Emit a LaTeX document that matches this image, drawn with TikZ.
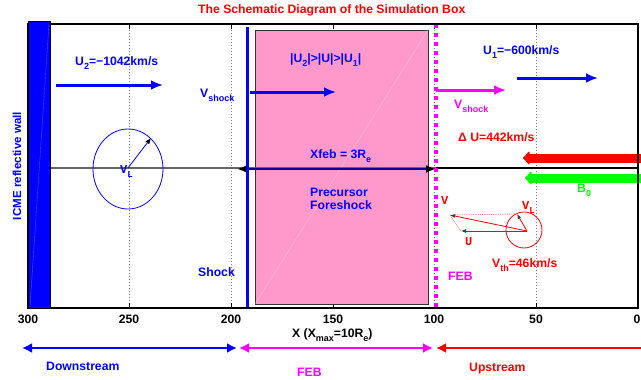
\documentclass[tikz,border=0pt]{standalone}
\usepackage{fontspec}
\setmainfont{Liberation Sans}
\setmonofont{Liberation Mono}
\usetikzlibrary{arrows.meta,positioning}
\definecolor{febpink}{HTML}{FF99CC}
\definecolor{febmagenta}{HTML}{FF00FF}
\definecolor{bgreen}{HTML}{00FF00}
\definecolor{xfebnavy}{HTML}{000099}
\definecolor{gridgray}{HTML}{808080}
\newcommand{\lowsub}[1]{\raisebox{-4pt}{\fontsize{9}{9}\selectfont #1}}

\begin{document}
\begin{tikzpicture}[x=1pt,y=-1pt,
  lbl/.style={inner sep=0pt, anchor=base west, font=\fontsize{12.2}{13}\selectfont\bfseries},
  vlbl/.style={inner sep=0pt, anchor=base west, font=\fontsize{12}{13}\selectfont\ttfamily\bfseries},
  uflow/.style={line width=3pt, -{Latex[length=12pt,width=10pt]}},
  bigflow/.style={line width=9pt, -{Latex[round,length=7pt,width=17pt]}},
  span/.style={line width=2pt, {Latex[length=10pt,width=10pt]}-{Latex[length=10pt,width=10pt]}},
  vecarr/.style={red, line width=0.8pt, -{Latex[length=5pt,width=4pt,color=darkgray]}},
  gridline/.style={gridgray, line width=0.5pt, dash pattern=on 0.8pt off 2.2pt}]
\useasboundingbox (0,0) rectangle (641,380);
\clip (0,0) rectangle (641,380);

% grid and ticks
\foreach \px in {129,231,333,434,536} {
  \draw[gridline] (\px,24) -- (\px,308);
  \draw[line width=0.8pt] (\px,24) -- (\px,29) (\px,308) -- (\px,303);
}
\foreach \v/\px in {300/28,250/129,200/231,150/333,100/434,50/536,0/637}
  \node[lbl, anchor=base] (t\v) at (\px,323) {\v};

% precursor foreshock region
\draw[fill=febpink, draw=black!80, line width=0.8pt] (255,30) rectangle (428,304);
\draw[white, opacity=0.35, line width=0.4pt] (255,304) -- (428,30);

% x axis of the box
\coordinate (wallx) at (50,168);
\coordinate (febx) at (436,168);
\coordinate (rightx) at (638,168);
\draw[black!60, line width=1.2pt] (wallx) -- (febx);
\draw[line width=1.2pt] (febx) -- (rightx);

% gyration circles
\draw[blue, line width=0.8pt] (128,169) ellipse[x radius=35, y radius=40];
\coordinate (gc) at (128,168);
\coordinate (gt) at (151,138);
\draw[blue, line width=0.8pt, -{Latex[length=6pt,width=5pt,color=black]}] (gc) -- (gt);
\node[vlbl, text=blue] (vlb) at (120,173) {V\lowsub{L}};

\draw[red, line width=0.8pt] (524,230) circle[radius=18];
\coordinate (o) at (527,231);
\coordinate (ut) at (461,231);
\coordinate (vlt) at (517,214);
\coordinate (vt) at (450,215);
\draw[red!50, densely dotted, line width=0.8pt] (vlt) -- (vt) (ut) -- (vt);
\draw[vecarr] (o) -- (ut);
\draw[vecarr] (o) -- (vt);
\draw[vecarr] (o) -- (vlt);
\node[vlbl, text=red] (vr) at (441,204) {V};
\node[vlbl, text=red] (ur) at (465,245) {U};
\node[vlbl, text=red] (vlr) at (522,209) {V\lowsub{L}};

% flows
\coordinate (u2a) at (56,85);  \coordinate (u2b) at (163,85);
\coordinate (vsa) at (250,92); \coordinate (vsb) at (336,92);
\coordinate (u1a) at (517,78); \coordinate (u1b) at (598,78);
\coordinate (vfa) at (436,90); \coordinate (vfb) at (506,90);
\draw[uflow, blue] (u2a) -- (u2b);
\draw[uflow, blue] (vsa) -- (vsb);
\draw[uflow, blue] (u1a) -- (u1b);
\draw[uflow, febmagenta] (vfa) -- (vfb);
\coordinate (dua) at (650,158); \coordinate (dub) at (523,158);
\coordinate (b0a) at (650,178); \coordinate (b0b) at (525,178);
\draw[bigflow, red] (dua) -- (dub);
\draw[bigflow, bgreen] (b0a) -- (b0b);

% Xfeb extent
\coordinate (xa) at (237,169);
\coordinate (xb) at (436,169);
\draw[xfebnavy, line width=2pt, {Latex[length=10pt,width=8pt,color=black]}-{Latex[length=10pt,width=8pt,color=black]}] (xa) -- (xb);

% shock and FEB
\draw[blue, line width=3pt] (247,27) -- (247,308);
\draw[febmagenta, line width=4.5pt, dash pattern=on 4pt off 5pt] (436,24) -- (436,308);

% frame and wall
\draw[line width=1.5pt] (28,24) rectangle (638,308);
\draw[fill=blue, draw=black, line width=1pt] (28,21) rectangle (50,308);
\draw[white, opacity=0.3, line width=0.4pt] (30,306) -- (49,24);

% labels
\node[lbl, text=red] (title) at (198,13) {The Schematic Diagram of the Simulation Box};
\node[lbl, text=blue, rotate=90, anchor=base, font=\fontsize{11.6}{13}\selectfont\bfseries] (icme) at (21,166) {ICME reflective wall};
\node[lbl, text=blue] (u2) at (75,65) {U\lowsub{2}=−1042km/s};
\node[lbl, text=blue] (ratio) at (290,63) {|U\lowsub{2}|>|U|>|U\lowsub{1}|};
\node[lbl, text=blue] (u1) at (483,54) {U\lowsub{1}=−600km/s};
\node[lbl, text=blue] (vsh) at (200,97) {V\lowsub{shock}};
\node[lbl, text=febmagenta] (vfeb) at (454,108) {V\lowsub{shock}};
\node[lbl, text=red] (du) at (458,141) {Δ U=442km/s};
\node[lbl, text=blue] (xfeb) at (310,158) {Xfeb = 3R\lowsub{e}};
\node[lbl, text=blue] (pre) at (310,196) {Precursor};
\node[lbl, text=blue, below=13pt of pre.base west, anchor=base west] (fore) {Foreshock};
\node[lbl, text=blue] (shk) at (198,276) {Shock};
\node[lbl, text=febmagenta] (febl) at (448,280) {FEB};
\node[lbl, text=red] (vth) at (492,267) {V\lowsub{th}=46km/s};
\node[lbl, text=bgreen] (b0) at (577,192) {B\lowsub{0}};
\node[lbl] (xlab) at (292,337) {X (X\lowsub{max}=10R\lowsub{e})};

% regions
\coordinate (dsa) at (22,348);  \coordinate (dsb) at (237,348);
\coordinate (fba) at (239,348); \coordinate (fbb) at (433,348);
\coordinate (usa) at (436,348); \coordinate (usb) at (651,348);
\draw[span, blue] (dsa) -- (dsb);
\draw[span, febmagenta] (fba) -- (fbb);
\draw[span, red] (usa) -- (usb);
\node[lbl, text=blue] (down) at (46,370) {Downstream};
\node[lbl, text=febmagenta] (febb) at (297,376) {FEB};
\node[lbl, text=red] (up) at (469,371) {Upstream};
\end{tikzpicture}
\end{document}
